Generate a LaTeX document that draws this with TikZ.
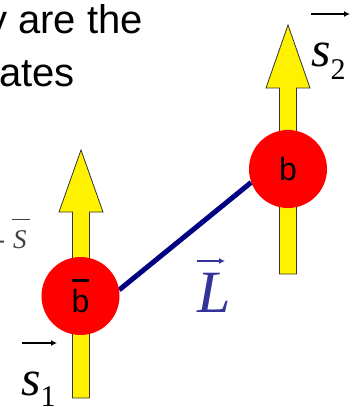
\documentclass[tikz,border=0pt]{standalone}
\usepackage{fontspec}
\setmainfont{Liberation Sans}
\newfontfamily\tmsfont{Liberation Serif}
\usetikzlibrary{arrows.meta,backgrounds}
\definecolor{bondblue}{RGB}{0,0,128}
\definecolor{labelblue}{RGB}{51,51,153}

\tikzset{
  quark/.style={circle, fill=red, minimum size=78pt, inner sep=0pt,
    font=\fontsize{32}{32}\selectfont},
  spinbar/.style={fill=yellow, draw=black!80, line width=0.8pt},
  bond/.style={draw=bondblue, line width=5pt},
  slide/.style={font=\fontsize{40}{48}\selectfont, inner sep=0pt, anchor=base west},
  veclabel/.style={font=\fontsize{50}{50}\selectfont\tmsfont\itshape, inner sep=0pt, anchor=base west},
  vecarr/.style={-{Latex[length=6pt,width=6pt]}, line width=1.6pt}
}
\newcommand{\sub}[2]{{\fontsize{30}{30}\selectfont\upshape\raisebox{#1}{#2}}}
\newcommand{\antib}{{\setbox0\hbox{b}\rlap{\rule[\dimexpr\ht0+8pt\relax]{\wd0}{3pt}}b}}

\begin{document}
\begin{tikzpicture}[x=1pt, y=-1pt]
  \useasboundingbox (0,0) rectangle (360,407);

  % slide text behind the picture
  \node[slide] (line1) at (-13,33) {y are the};
  \node[slide] (line2) at (-1,86) {ates};

  % spin arrows
  \foreach \cx/\tip/\base/\bot in {81/150/212/398, 288/25/88/274} {
    \draw[spinbar] (\cx-8.5,\bot) -- (\cx-8.5,\base) -- (\cx-22,\base)
      -- (\cx,\tip) -- (\cx+22,\base) -- (\cx+8.5,\base) -- (\cx+8.5,\bot) -- cycle;
  }

  % the two quarks
  \node[quark] (bbar) at (80.5,296) {\antib};
  \node[quark] (b) at (288,169) {b};

  % string between them
  \begin{pgfonlayer}{background}
    \draw[bond] (bbar.9) -- (b.200);
  \end{pgfonlayer}

  % labels
  \node[veclabel] (s1) at (21,395) {s\sub{-11pt}{1}};
  \draw[vecarr] (22,343) -- (57,343);
  \node[veclabel] (s2) at (311,66) {s\sub{-13pt}{2}};
  \draw[vecarr] (311,14) -- (350,14);
  \node[veclabel, font=\fontsize{60}{60}\selectfont\tmsfont\itshape, text=labelblue] (L) at (197,312) {L};
  \draw[vecarr, labelblue] (197,261) -- (225,261);
  \node[veclabel, font=\fontsize{27}{27}\selectfont\tmsfont\itshape, text=black!75] (S) at (-4,248) {-\hspace{8pt}S};
  \draw[black!75, line width=1pt] (12,219) -- (30,219);
\end{tikzpicture}
\end{document}
